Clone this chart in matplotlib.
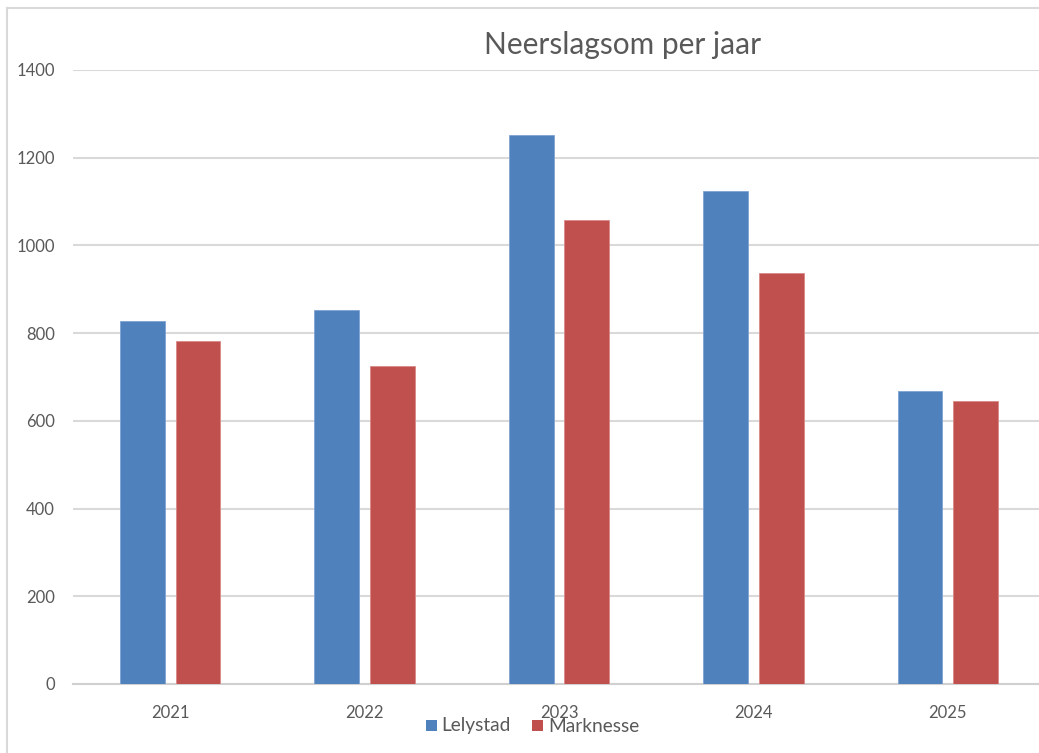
import matplotlib
matplotlib.use("Agg")
import matplotlib.pyplot as plt
import numpy as np
from matplotlib.patches import Rectangle
from matplotlib.lines import Line2D

years = ["2021", "2022", "2023", "2024", "2025"]
lelystad = [827, 852, 1252, 1125, 667]
marknesse = [782, 726, 1059, 938, 645]
series_names = ["Lelystad", "Marknesse"]
yticks = [0, 200, 400, 600, 800, 1000, 1200, 1400]

W, H = 1039, 753
fig = plt.figure(figsize=(W / 100, H / 100), dpi=100)
FONT = ["Lato", "DejaVu Sans"]
plt.rcParams["font.family"] = FONT
TXT = "#595959"
BLUE = "#4F81BD"
RED = "#C0504D"

def fx(px):
    return px / W

def fy(py):
    return 1 - py / H

left, right, top, bottom = 73, 1045, 70, 684
ax = fig.add_axes([fx(left), fy(bottom), (right - left) / W, (bottom - top) / H])

x = np.arange(len(years))
bw = 0.231
off = 0.143
ax.bar(x - off, lelystad, bw, color=BLUE, edgecolor="#7FA3D3", linewidth=0.6, zorder=3, label=series_names[0])
ax.bar(x + off, marknesse, bw, color=RED, edgecolor="#D98A88", linewidth=0.6, zorder=3, label=series_names[1])

ax.set_xlim(-0.5, len(years) - 0.5)
ax.set_ylim(0, 1400)
ax.set_yticks(yticks)
ax.set_yticklabels([str(v) for v in yticks])
ax.set_xticks(x)
ax.set_xticklabels(years)
ax.yaxis.grid(True, color="#D9D9D9", linewidth=1.5, zorder=0)
ax.set_axisbelow(True)
for s in ["top", "right", "left"]:
    ax.spines[s].set_visible(False)
ax.spines["bottom"].set_color("#D0D0D0")
ax.spines["bottom"].set_linewidth(1.5)
ax.tick_params(axis="both", length=0, labelsize=12, labelcolor=TXT)
ax.tick_params(axis="y", pad=13)
ax.tick_params(axis="x", pad=15)

# Title
fig.text(fx(623), fy(45), "Neerslagsom per jaar", ha="center", va="center",
         fontsize=21.5, color=TXT)

# Legend (manual placement)
for (sx, tx), name, col in zip([(426, 441), (532, 548)], series_names, [BLUE, RED]):
    fig.patches.append(Rectangle((fx(sx), fy(731)), 11 / W, 11 / H, transform=fig.transFigure,
                                 facecolor=col, edgecolor="none"))
    fig.text(fx(tx), fy(726), name, ha="left", va="center", fontsize=13.8, color=TXT)

# Chart frame (left and top)
fig.lines.append(Line2D([fx(7), fx(7)], [fy(8), 0], transform=fig.transFigure,
                        color="#D9D9D9", linewidth=1.5))
fig.lines.append(Line2D([fx(7), 1], [fy(8), fy(8)], transform=fig.transFigure,
                        color="#D9D9D9", linewidth=1.5))

fig.savefig("out.png", dpi=100, facecolor="white")
